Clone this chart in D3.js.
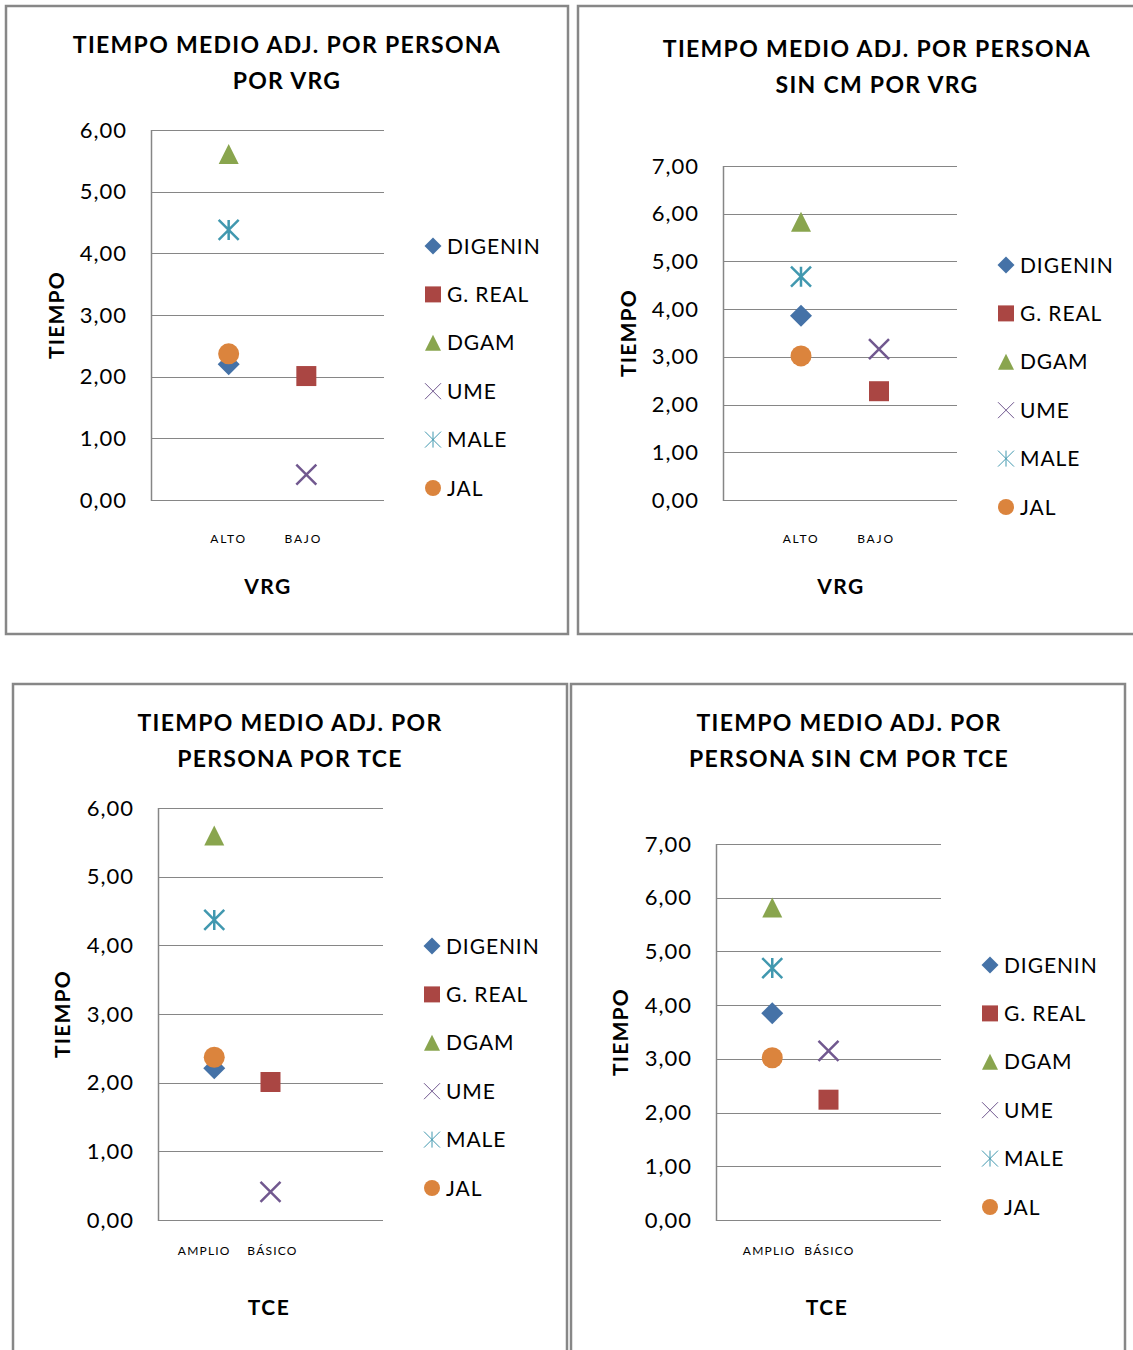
<!DOCTYPE html>
<meta charset="utf-8">
<style>
  body { margin: 0; background: #fff; }
  text { font-family: Lato, "Open Sans", sans-serif; fill: #000; }
</style>
<body>
<script src="https://cdn.jsdelivr.net/npm/d3@7"></script>
<script>

var width = 1133,
    height = 1350;

// series and categories
var series = ["DIGENIN", "G. REAL", "DGAM", "UME", "MALE", "JAL"];
var colors = ["#4572A7", "#AA4643", "#89A54E", "#71588F", "#4198AF", "#DB843D"];
var shapes = ["diamond", "square", "triangle", "x", "star", "circle"];

var vrgCats = ["ALTO", "BAJO"];
var tceCats = ["AMPLIO", "BÁSICO"];

// values per series, one per category (null = no point)
var vrgValues = [[2.20, null], [null, 2.01], [5.61, null], [null, 0.41], [4.38, null], [2.37, null]];
var vrgSinCmValues = [[3.86, null], [null, 2.28], [5.83, null], [null, 3.16], [4.68, null], [3.02, null]];
var tceValues = [[2.21, null], [null, 2.01], [5.60, null], [null, 0.41], [4.37, null], [2.37, null]];
var tceSinCmValues = [[3.85, null], [null, 2.24], [5.82, null], [null, 3.15], [4.69, null], [3.02, null]];

var ticks6 = [0, 1, 2, 3, 4, 5, 6];
var ticks7 = [0, 1, 2, 3, 4, 5, 6, 7];

var svg = d3.select("body").append("svg")
    .attr("width", width)
    .attr("height", height);

svg.append("rect").attr("width", width).attr("height", height).attr("fill", "#fff");

var fmt = function(d) { return d3.format(".2f")(d).replace(".", ","); };

// marker path centred at 0,0
function marker(shape, s) {
  var h = s / 2;
  switch (shape) {
    case "diamond": return "M0," + (-h) + "L" + h + ",0L0," + h + "L" + (-h) + ",0Z";
    case "square": return "M" + (-h) + "," + (-h) + "h" + s + "v" + s + "h" + (-s) + "Z";
    case "triangle": return "M0," + (-h) + "L" + h + "," + h + "L" + (-h) + "," + h + "Z";
    case "x": return "M" + (-h) + "," + (-h) + "L" + h + "," + h + "M" + h + "," + (-h) + "L" + (-h) + "," + h;
    case "star": return "M" + (-h) + "," + (-h) + "L" + h + "," + h + "M" + h + "," + (-h) + "L" + (-h) + "," + h +
                        "M0," + (-h) + "L0," + h;
    case "circle": return d3.symbol(d3.symbolCircle, Math.PI * h * h)();
  }
}

function drawMarker(g, i, s, sw) {
  var line = shapes[i] == "x" || shapes[i] == "star";
  g.append("path")
      .attr("d", marker(shapes[i], s))
      .attr("fill", line ? "none" : colors[i])
      .attr("stroke", line ? colors[i] : "none")
      .attr("stroke-width", sw);
}

function drawPanel(p) {
  var g = svg.append("g");

  // frame (may run off the page on the right / bottom)
  g.append("rect")
      .attr("x", p.box[0]).attr("y", p.box[1])
      .attr("width", p.box[2] - p.box[0]).attr("height", p.box[3] - p.box[1])
      .attr("fill", "none")
      .attr("stroke", "#878787")
      .attr("stroke-width", 2.5);

  // title
  p.title.forEach(function(t, k) {
    g.append("text")
        .attr("x", p.titleX)
        .attr("y", p.titleY + k * 36)
        .attr("text-anchor", "middle")
        .attr("font-size", 23)
        .attr("font-weight", "bold")
        .attr("letter-spacing", 1.3)
        .text(t);
  });

  var y = d3.scaleLinear().domain([0, p.max]).range([p.y1, p.y0]);
  var x = d3.scalePoint().domain(p.slots).range([p.x0, p.x1]).padding(1);

  // gridlines
  g.append("g").selectAll("line")
    .data(p.ticks)
    .join("line")
      .attr("x1", p.x0).attr("x2", p.x1)
      .attr("y1", function(d) { return Math.round(y(d)) + 0.5; })
      .attr("y2", function(d) { return Math.round(y(d)) + 0.5; })
      .attr("stroke", "#868686")
      .attr("stroke-width", 1.2);

  g.append("line")
      .attr("x1", p.x0 + 0.5).attr("x2", p.x0 + 0.5)
      .attr("y1", p.y0).attr("y2", p.y1 + 1)
      .attr("stroke", "#868686")
      .attr("stroke-width", 1.5);

  // y tick labels
  g.append("g").selectAll("text")
    .data(p.ticks)
    .join("text")
      .attr("x", p.x0 - 24)
      .attr("y", function(d) { return y(d) + 7.5; })
      .attr("text-anchor", "end")
      .attr("font-size", 22)
      .attr("letter-spacing", 1)
      .attr("fill", "#222")
      .text(fmt);

  // category labels
  g.append("g").selectAll("text")
    .data(p.cats)
    .join("text")
      .attr("x", function(d, k) { return x(d) + p.catShift[k]; })
      .attr("y", p.catY)
      .attr("text-anchor", "middle")
      .attr("font-size", 12)
      .attr("letter-spacing", p.catSpacing)
      .text(function(d) { return d; });

  // axis titles
  g.append("text")
      .attr("transform", "translate(" + p.yTitleX + "," + ((p.y0 + p.y1) / 2) + ") rotate(-90)")
      .attr("text-anchor", "middle")
      .attr("font-size", 21)
      .attr("font-weight", "bold")
      .attr("letter-spacing", 1.2)
      .text("TIEMPO");

  g.append("text")
      .attr("x", p.xTitleX)
      .attr("y", p.xTitleY)
      .attr("text-anchor", "middle")
      .attr("font-size", 21)
      .attr("font-weight", "bold")
      .attr("letter-spacing", 1.5)
      .text(p.xTitle);

  // points
  p.values.forEach(function(vals, i) {
    vals.forEach(function(v, c) {
      if (v == null) return;
      var m = g.append("g").attr("transform", "translate(" + x(p.cats[c]) + "," + y(v) + ")");
      drawMarker(m, i, shapes[i] == "circle" ? 21 : (shapes[i] == "diamond" ? 22 : 20), 2.5);
    });
  });

  // legend
  series.forEach(function(name, i) {
    var ly = p.legY + i * 48.4;
    var m = g.append("g").attr("transform", "translate(" + p.legX + "," + ly + ")");
    drawMarker(m, i, shapes[i] == "diamond" ? 17 : 16, 1);
    g.append("text")
        .attr("x", p.legX + 14)
        .attr("y", ly + 7.5)
        .attr("font-size", 21)
        .attr("letter-spacing", 0.9)
        .text(name);
  });
}

drawPanel({
  box: [6, 6, 568, 634], title: ["TIEMPO MEDIO ADJ. POR PERSONA", "POR VRG"], titleX: 287, titleY: 53,
  x0: 151, x1: 384, y0: 130, y1: 500, max: 6, ticks: ticks6,
  cats: vrgCats, slots: vrgCats, values: vrgValues, catY: 543, catSpacing: 1.8, catShift: [0, -3],
  yTitleX: 64, xTitle: "VRG", xTitleX: 268, xTitleY: 594,
  legX: 433, legY: 246
});

drawPanel({
  box: [578, 6, 1150, 634], title: ["TIEMPO MEDIO ADJ. POR PERSONA", "SIN CM POR VRG"], titleX: 877, titleY: 57,
  x0: 723, x1: 957, y0: 166, y1: 500, max: 7, ticks: ticks7,
  cats: vrgCats, slots: vrgCats, values: vrgSinCmValues, catY: 543, catSpacing: 1.8, catShift: [0, -3],
  yTitleX: 636, xTitle: "VRG", xTitleX: 841, xTitleY: 594,
  legX: 1006, legY: 265
});

drawPanel({
  box: [13, 684, 567, 1370], title: ["TIEMPO MEDIO ADJ. POR", "PERSONA POR TCE"], titleX: 290, titleY: 731,
  x0: 158, x1: 383, y0: 808, y1: 1220, max: 6, ticks: ticks6,
  cats: tceCats, slots: tceCats.concat([""]), values: tceValues, catY: 1255, catSpacing: 1.2, catShift: [-10, 2],
  yTitleX: 70, xTitle: "TCE", xTitleX: 269, xTitleY: 1315,
  legX: 432, legY: 946
});

drawPanel({
  box: [571, 684, 1125, 1370], title: ["TIEMPO MEDIO ADJ. POR", "PERSONA SIN CM POR TCE"], titleX: 849, titleY: 731,
  x0: 716, x1: 941, y0: 844, y1: 1220, max: 7, ticks: ticks7,
  cats: tceCats, slots: tceCats.concat([""]), values: tceSinCmValues, catY: 1255, catSpacing: 1.2, catShift: [-3, 1],
  yTitleX: 628, xTitle: "TCE", xTitleX: 827, xTitleY: 1315,
  legX: 990, legY: 965
});

</script>
